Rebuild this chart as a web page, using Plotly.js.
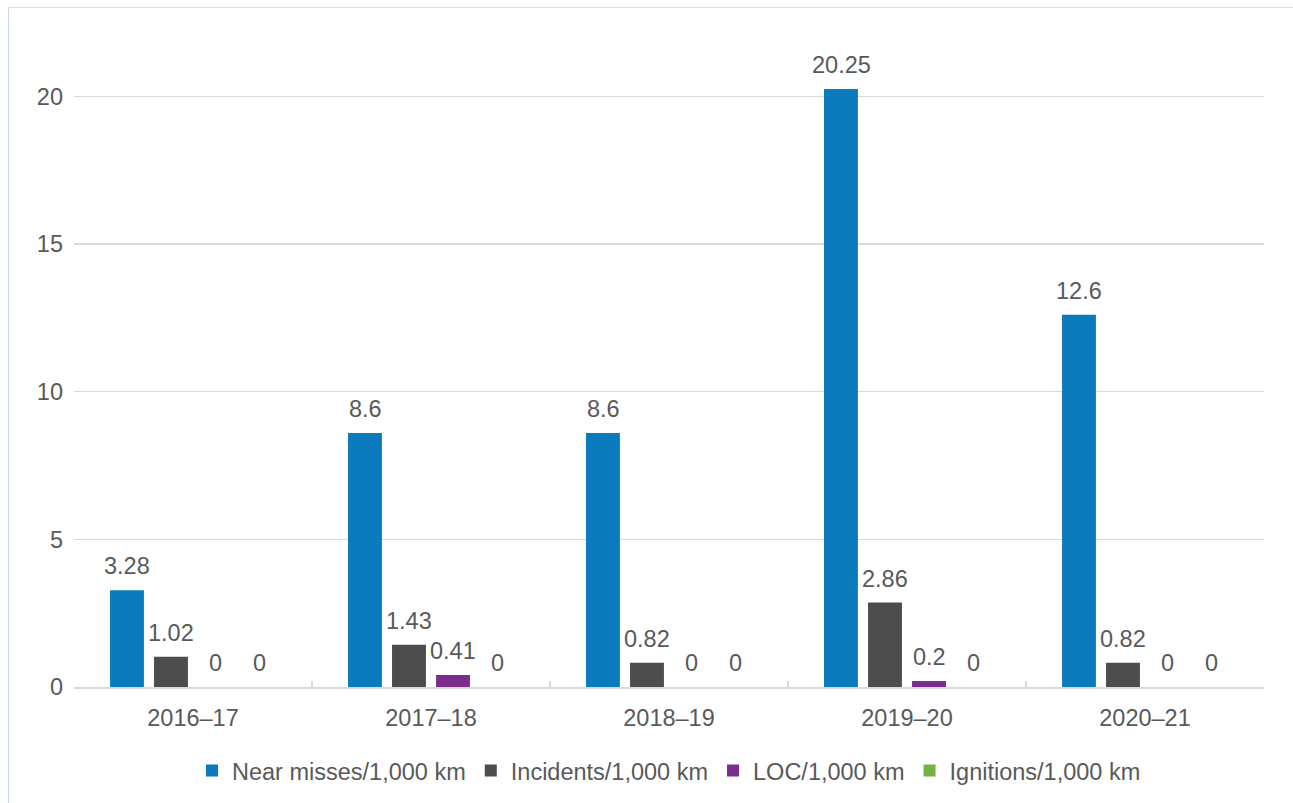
<!DOCTYPE html>
<html>
<head>
<meta charset="utf-8">
<script src="https://cdn.plot.ly/plotly-3.0.1.min.js"></script>
<style>
  html, body { margin: 0; padding: 0; background: #fff; }
  #frame { position: absolute; left: 8px; top: 7px; width: 1285px; height: 796px;
           border-left: 1px solid #C9D6E3; border-top: 1px solid #DDDDDD; box-sizing: border-box; }
  #chart { position: absolute; left: 0; top: 0; width: 1293px; height: 803px; }
</style>
</head>
<body>
<div id="frame"></div>
<div id="chart"></div>
<script>
const categories = ["2016\u201317", "2017\u201318", "2018\u201319", "2019\u201320", "2020\u201321"];
const nearMisses = [3.28, 8.6, 8.6, 20.25, 12.6];
const incidents = [1.02, 1.43, 0.82, 2.86, 0.82];
const loc = [0, 0.41, 0, 0.2, 0];
const ignitions = [0, 0, 0, 0, 0];
const seriesNames = ["Near misses/1,000 km", "Incidents/1,000 km", "LOC/1,000 km", "Ignitions/1,000 km"];
const seriesColors = ["#0B7BBE", "#4D4D4D", "#7B2D8E", "#74B244"];
const seriesValues = [nearMisses, incidents, loc, ignitions];

const textColor = "#595959";
const fontFam = "Liberation Sans, Arial, sans-serif";
const fs = 23.5;

const traces = seriesValues.map((vals, i) => ({
  type: "bar",
  name: seriesNames[i],
  x: categories,
  y: vals,
  marker: { color: seriesColors[i] },
  hoverinfo: "x+y+name"
}));

// data labels positioned via the axes, shifted per series within each group
const slotPx = 44;
const annotations = [];
seriesValues.forEach((vals, i) => {
  vals.forEach((v, j) => {
    annotations.push({
      x: categories[j], y: v, xref: "x", yref: "y",
      text: String(v), showarrow: false,
      xanchor: "center", yanchor: "bottom",
      xshift: (i - 1.5) * slotPx, yshift: 9,
      font: { family: fontFam, size: fs, color: textColor }
    });
  });
});

const layout = {
  width: 1293, height: 803,
  margin: { l: 74, r: 29, t: 52, b: 115 },
  paper_bgcolor: "rgba(0,0,0,0)",
  plot_bgcolor: "rgba(0,0,0,0)",
  barmode: "group",
  bargap: 0.26,
  bargroupgap: 0.23,
  font: { family: fontFam, size: fs, color: textColor },
  xaxis: {
    type: "category",
    showline: true, linecolor: "#D9D9D9", linewidth: 1.5,
    ticks: "inside", tickson: "boundaries", ticklen: 6, tickcolor: "#D9D9D9", tickwidth: 1.5,
    showgrid: false, zeroline: false,
    tickfont: { family: fontFam, size: fs, color: textColor },
    ticklabelstandoff: 9
  },
  yaxis: {
    range: [0, 21.5],
    tickvals: [0, 5, 10, 15, 20],
    showgrid: true, gridcolor: "#D9D9D9", gridwidth: 1.5,
    zeroline: false, showline: false, ticks: "",
    tickfont: { family: fontFam, size: fs, color: textColor },
    ticklabelstandoff: 10
  },
  showlegend: true,
  legend: {
    orientation: "h",
    x: 0.5, xanchor: "center",
    y: -0.13, yanchor: "middle",
    font: { family: fontFam, size: fs, color: textColor },
    itemwidth: 30,
    traceorder: "normal"
  },
  annotations: annotations
};

Plotly.newPlot("chart", traces, layout, { displayModeBar: false, staticPlot: true });
</script>
</body>
</html>
